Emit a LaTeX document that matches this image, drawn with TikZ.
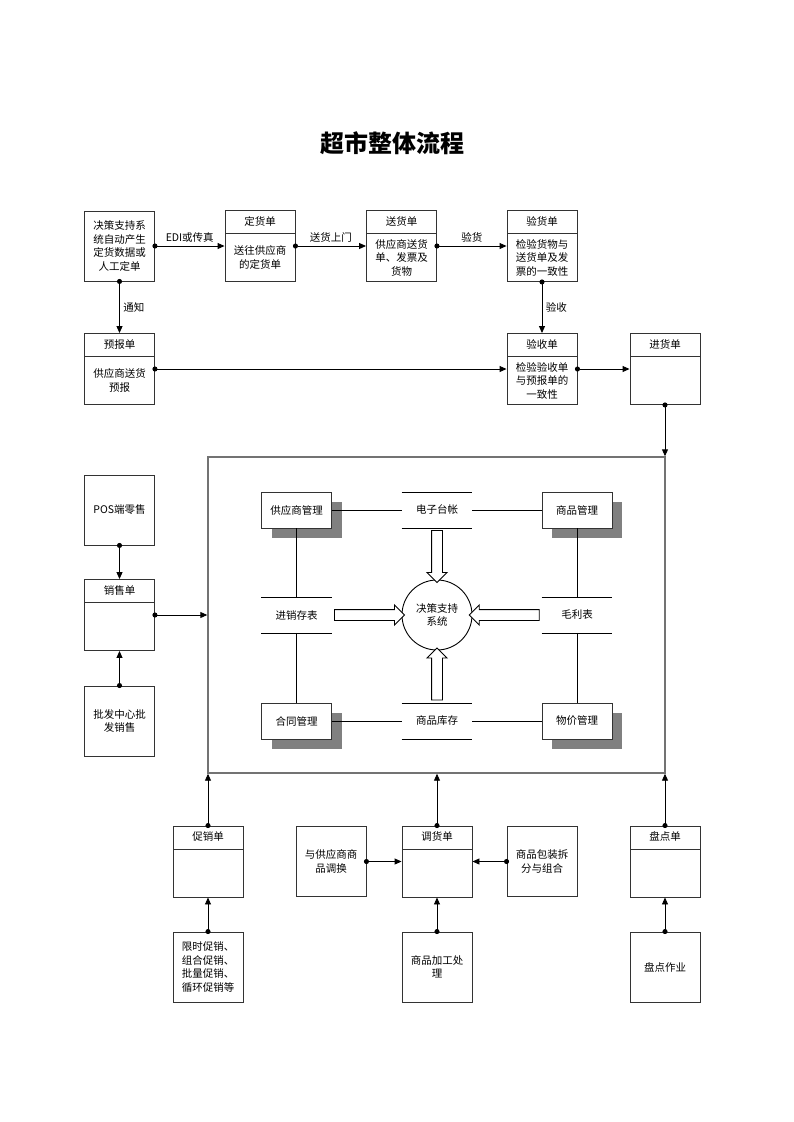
\documentclass[tikz,border=0pt]{standalone}
\usepackage{fontspec}
\setmainfont{Noto Sans CJK SC}
\usetikzlibrary{arrows.meta,shadows,shapes.arrows,calc}

\begin{document}
\begin{tikzpicture}[x=1pt,y=1pt,>={Triangle[length=7pt,width=6pt]},line width=0.9pt,
    every node/.style={font=\fontsize{10.5}{13.5}\selectfont},
    box/.style={draw=black!80,minimum width=70pt,minimum height=70pt,align=center,inner sep=1pt},
    form/.style={box,minimum height=71pt,path picture={\draw[black!80]
        ([yshift=-23pt]path picture bounding box.north west) -- ([yshift=-23pt]path picture bounding box.north east);}},
    head/.style={minimum height=23pt,inner sep=0pt,yshift=-23pt},
    txt/.style={align=center,inner sep=0pt},
    flow/.style={{Circle[length=5pt]}->,shorten <=-2.5pt},
    task/.style={draw=black!80,fill=white,minimum width=70pt,minimum height=36pt,
        drop shadow={shadow xshift=10pt,shadow yshift=-10pt,fill=black!50,opacity=1}},
    store/.style={minimum width=70pt,minimum height=35pt,append after command={
        (\tikzlastnode.north west) edge (\tikzlastnode.north east)
        (\tikzlastnode.south west) edge (\tikzlastnode.south east)}},
    fat/.style={single arrow,draw,fill=white,inner sep=0pt,text height=10pt,text depth=0pt,
        minimum width=0pt,single arrow head extend=4.5pt,single arrow tip angle=90}]

  \useasboundingbox (0,0) rectangle (793,-1122);
  \node[font=\fontsize{24}{28}\selectfont\bfseries] (title) at (392,-143) {超市整体流程};

  \node[box] (jc) at (119.5,-246) {决策支持系\\统自动产生\\定货数据或\\人工定单};
  \node[form,label={[head,name=dh-t]north:定货单}] (dh) at (260,-246) {};
  \node[txt] (dh-b) at ([yshift=-11.5pt]dh.center) {送往供应商\\的定货单};
  \node[form,label={[head,name=sh-t]north:送货单}] (sh) at (401.5,-246) {};
  \node[txt] (sh-b) at ([yshift=-11.5pt]sh.center) {供应商送货\\单、发票及\\货物};
  \node[form,label={[head,name=yh-t]north:验货单}] (yh) at (542,-246) {};
  \node[txt] (yh-b) at ([yshift=-11.5pt]yh.center) {检验货物与\\送货单及发\\票的一致性};

  \node[form,label={[head,name=yb-t]north:预报单}] (yb) at (119.5,-369) {};
  \node[txt] (yb-b) at ([yshift=-11.5pt]yb.center) {供应商送货\\预报};
  \node[form,label={[head,name=ys-t]north:验收单}] (ys) at (542,-369) {};
  \node[txt] (ys-b) at ([yshift=-11.5pt]ys.center) {检验验收单\\与预报单的\\一致性};
  \node[form,label={[head,name=jh-t]north:进货单}] (jh) at (665,-369) {};

  \node[box] (pos) at (119.5,-510) {POS端零售};
  \node[form,label={[head,name=xs-t]north:销售单}] (xs) at (119.5,-615) {};
  \node[box] (pf) at (119.5,-721) {批发中心批\\发销售};

  \node[draw=black!55,line width=1.4pt,minimum width=457pt,minimum height=316pt] (core) at (436.5,-615) {};
  \node[task] (gm) at (296.5,-510) {供应商管理};
  \node[task] (sp) at (577,-510) {商品管理};
  \node[task] (ht) at (296.5,-721) {合同管理};
  \node[task] (wj) at (577,-721) {物价管理};
  \node[store] (dz) at (437,-510) {电子台帐};
  \node[store] (kc) at (437,-721) {商品库存};
  \node[store] (jx) at (296.5,-615) {进销存表};
  \node[store] (ml) at (577,-615) {毛利表};
  \node[draw,circle,minimum size=70pt,txt] (jcz) at (437,-615) {决策支持\\系统};

  \node[fat,minimum height=52pt,rotate=-90] (f1) at ($(dz.south)!.5!(jcz.north)$) {};
  \node[fat,minimum height=52pt,rotate=90] (f2) at ($(kc.north)!.5!(jcz.south)$) {};
  \node[fat,minimum height=70pt] (f3) at ($(jx.east)!.5!(jcz.west)$) {};
  \node[fat,minimum height=70pt,rotate=180] (f4) at ($(ml.west)!.5!(jcz.east)$) {};

  \node[form,label={[head,name=cx-t]north:促销单}] (cx) at (208,-861.5) {};
  \node[box] (xc) at (208,-967) {限时促销、\\组合促销、\\批量促销、\\循环促销等};
  \node[box] (hh) at (331,-861.5) {与供应商商\\品调换};
  \node[form,label={[head,name=dd-t]north:调货单}] (dd) at (437,-861.5) {};
  \node[box] (jg) at (437,-967) {商品加工处\\理};
  \node[box] (bz) at (542,-861.5) {商品包装拆\\分与组合};
  \node[form,label={[head,name=pd-t]north:盘点单}] (pd) at (665,-861.5) {};
  \node[box] (pz) at (665,-967) {盘点作业};

  \path (jc) edge[flow] node[above] {EDI或传真} (dh)
        (dh) edge[flow] node[above] {送货上门} (sh)
        (sh) edge[flow] node[above] {验货} (yh)
        (jc) edge[flow] node[right] {通知} (yb)
        (yh) edge[flow] node[right] {验收} (ys)
        (yb) edge[flow] (ys)
        (ys) edge[flow] (jh)
        (jh) edge[flow] (jh |- core.north)
        (pos) edge[flow] (xs)
        (pf) edge[flow] (xs)
        (xs) edge[flow] (xs -| core.west)
        (cx) edge[flow] (cx |- core.south)
        (dd) edge[flow] (dd |- core.south)
        (pd) edge[flow] (pd |- core.south)
        (xc) edge[flow] (cx)
        (jg) edge[flow] (dd)
        (pz) edge[flow] (pd)
        (hh) edge[flow] (dd)
        (bz) edge[flow] (dd);

  \path (gm) edge (dz) (dz) edge (sp) (ht) edge (kc) (kc) edge (wj)
        (gm) edge (jx) (jx) edge (ht) (sp) edge (ml) (ml) edge (wj);
\end{tikzpicture}
\end{document}
